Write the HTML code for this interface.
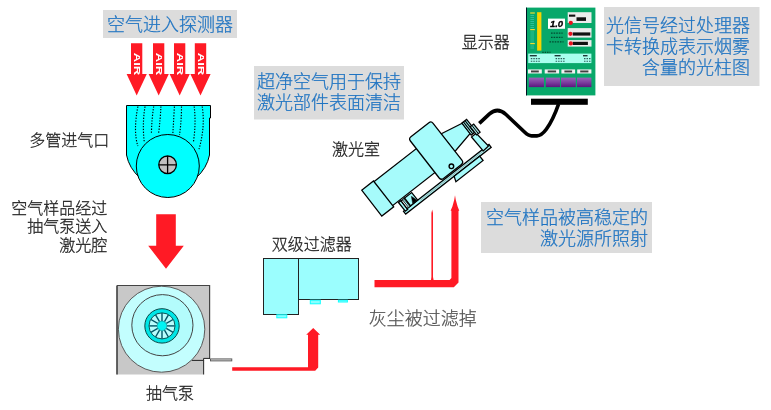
<!DOCTYPE html>
<html lang="zh-CN"><head><meta charset="utf-8"><title>空气采样探测器原理</title>
<style>
html,body{margin:0;padding:0;background:#fff;}
body{width:771px;height:410px;overflow:hidden;}
svg{display:block;font-family:"Liberation Sans","Noto Sans CJK SC",sans-serif;will-change:transform;}
</style></head><body>
<svg width="771" height="410" viewBox="0 0 771 410">
<defs><linearGradient id="pg" x1="0" y1="0" x2="0" y2="1"><stop offset="0" stop-color="#9a66b8"/><stop offset="0.55" stop-color="#7a3a9c"/><stop offset="1" stop-color="#5c167e"/></linearGradient></defs>
<polygon points="131.0,43.3 142.3,43.3 142.3,74.0 146.8,74.0 136.7,95.5 126.6,74.0 131.0,74.0" fill="#ff1a25"/>
<text x="136.7" y="66.5" transform="rotate(90 136.7 64.0)" font-family='"Liberation Sans",sans-serif' font-weight="bold" font-size="9.5" fill="#fff" text-anchor="middle" textLength="22.5" lengthAdjust="spacingAndGlyphs">AIR</text>
<polygon points="153.0,43.3 164.3,43.3 164.3,74.0 168.8,74.0 158.7,95.5 148.6,74.0 153.0,74.0" fill="#ff1a25"/>
<text x="158.7" y="66.5" transform="rotate(90 158.7 64.0)" font-family='"Liberation Sans",sans-serif' font-weight="bold" font-size="9.5" fill="#fff" text-anchor="middle" textLength="22.5" lengthAdjust="spacingAndGlyphs">AIR</text>
<polygon points="174.0,43.3 185.3,43.3 185.3,74.0 189.8,74.0 179.7,95.5 169.6,74.0 174.0,74.0" fill="#ff1a25"/>
<text x="179.7" y="66.5" transform="rotate(90 179.7 64.0)" font-family='"Liberation Sans",sans-serif' font-weight="bold" font-size="9.5" fill="#fff" text-anchor="middle" textLength="22.5" lengthAdjust="spacingAndGlyphs">AIR</text>
<polygon points="194.8,43.3 206.2,43.3 206.2,74.0 210.6,74.0 200.5,95.5 190.4,74.0 194.8,74.0" fill="#ff1a25"/>
<text x="200.5" y="66.5" transform="rotate(90 200.5 64.0)" font-family='"Liberation Sans",sans-serif' font-weight="bold" font-size="9.5" fill="#fff" text-anchor="middle" textLength="22.5" lengthAdjust="spacingAndGlyphs">AIR</text>
<path d="M126.5 105.5 H210.5 V118 H209.5 V155 Q207 168 196 178 L140 178 Q129 168 126.5 155 Z" fill="#00ffff" stroke="#000" stroke-width="1"/>
<path d="M137.9 106.5 Q133.1 131.2 137.9 146" fill="none" stroke="#000" stroke-width="1.15" stroke-dasharray="1.3 1.5"/>
<path d="M145 106.5 Q142.2 123.9 144.2 141.3" fill="none" stroke="#000" stroke-width="1.15" stroke-dasharray="1.3 1.5"/>
<path d="M153.7 106.5 Q151.8 118.2 151.4 133.5" fill="none" stroke="#000" stroke-width="1.15" stroke-dasharray="1.3 1.5"/>
<path d="M160.9 106.5 Q160.5 117.8 158.5 134.3" fill="none" stroke="#000" stroke-width="1.15" stroke-dasharray="1.3 1.5"/>
<path d="M174.4 106.5 Q173.6 121.0 172.8 134.3" fill="none" stroke="#000" stroke-width="1.15" stroke-dasharray="1.3 1.5"/>
<path d="M181.5 106.5 Q181.5 120.7 179.5 135" fill="none" stroke="#000" stroke-width="1.15" stroke-dasharray="1.3 1.5"/>
<path d="M194.2 106.5 Q196.2 123.6 193.4 142" fill="none" stroke="#000" stroke-width="1.15" stroke-dasharray="1.3 1.5"/>
<path d="M202.2 106.5 Q205.4 126.4 199 149.2" fill="none" stroke="#000" stroke-width="1.15" stroke-dasharray="1.3 1.5"/>
<circle cx="167.8" cy="166" r="31.5" fill="#00ffff" stroke="#000" stroke-width="1"/>
<circle cx="167.6" cy="164.8" r="8.8" fill="#c0c0c0" stroke="#000" stroke-width="1.3"/>
<path d="M158.8 164.8 H176.4 M167.6 156 V173.6" stroke="#000" stroke-width="1.3"/>
<polygon points="156.2,214.3 175.8,214.3 175.8,245.8 183.8,245.8 166.0,268.7 148.2,245.8 156.2,245.8" fill="#ff1a25"/>
<path d="M116.5 285.5 H210 V358.4 H203.6 V374.5 H116.5 Z" fill="#c8c8c8"/>
<path d="M117 374.5 V285.5" stroke="#111" stroke-width="1.2"/>
<path d="M117 285.5 H209.6 V358.4" stroke="#444" stroke-width="1.2" fill="none"/>
<ellipse cx="161.6" cy="329.2" rx="43.2" ry="43" fill="#c3fefe" stroke="#5a5a5a" stroke-width="1"/>
<circle cx="162.4" cy="325.2" r="30.6" fill="#b3fcfc" stroke="#444" stroke-width="1"/>
<circle cx="162.0" cy="325.9" r="17.2" fill="#00e6e6" stroke="#033" stroke-width="0.9"/>
<circle cx="162.0" cy="325.9" r="13" fill="#b8fdfd" stroke="#044" stroke-width="0.9"/>
<line x1="167.0" y1="325.9" x2="174.8" y2="325.9" stroke="#056" stroke-width="1.4"/>
<line x1="166.3" y1="328.4" x2="173.1" y2="332.3" stroke="#056" stroke-width="1.4"/>
<line x1="164.5" y1="330.2" x2="168.4" y2="337.0" stroke="#056" stroke-width="1.4"/>
<line x1="162.0" y1="330.9" x2="162.0" y2="338.7" stroke="#056" stroke-width="1.4"/>
<line x1="159.5" y1="330.2" x2="155.6" y2="337.0" stroke="#056" stroke-width="1.4"/>
<line x1="157.7" y1="328.4" x2="150.9" y2="332.3" stroke="#056" stroke-width="1.4"/>
<line x1="157.0" y1="325.9" x2="149.2" y2="325.9" stroke="#056" stroke-width="1.4"/>
<line x1="157.7" y1="323.4" x2="150.9" y2="319.5" stroke="#056" stroke-width="1.4"/>
<line x1="159.5" y1="321.6" x2="155.6" y2="314.8" stroke="#056" stroke-width="1.4"/>
<line x1="162.0" y1="320.9" x2="162.0" y2="313.1" stroke="#056" stroke-width="1.4"/>
<line x1="164.5" y1="321.6" x2="168.4" y2="314.8" stroke="#056" stroke-width="1.4"/>
<line x1="166.3" y1="323.4" x2="173.1" y2="319.5" stroke="#056" stroke-width="1.4"/>
<circle cx="162.0" cy="325.9" r="4.8" fill="#00f4f4" stroke="#088" stroke-width="0.6"/>
<rect x="210.5" y="358.9" width="21.3" height="2" fill="#d4d4d4" stroke="#555" stroke-width="0.9"/>
<path d="M192 360.4 H203.6 V358.4 H210" stroke="#222" stroke-width="1" fill="none"/>
<path d="M203.6 360 V374.5" stroke="#333" stroke-width="1.1" fill="none"/>
<path d="M232.2 367.3 H308 V334.7 H306.2 L313.2 327.9 L320.2 334.7 H318.2 V367.6 L315.2 370.7 H232.2 Z" fill="#ff1a25"/>
<rect x="263.5" y="258.5" width="35" height="56" fill="#9bfefe" stroke="#222" stroke-width="1"/>
<rect x="298.5" y="258.5" width="60" height="41" fill="#9bfefe" stroke="#222" stroke-width="1"/>
<rect x="276.8" y="314.8" width="10" height="3" fill="#8ff" stroke="#1ff" stroke-width="1"/>
<rect x="310.3" y="300.2" width="10" height="3.6" fill="#8ff" stroke="#1ff" stroke-width="1"/>
<rect x="338.4" y="300.2" width="9" height="1.8" fill="#8ff" stroke="#1ff" stroke-width="1"/>
<path d="M374.5 280 H431 L431.4 277 V213 L432.2 209.5 L433 213 V277 L433.6 280 H449.6 L451.4 278 V210.8 H450.6 L452.4 206.5 L454.2 200 L455 195.2 L455.8 200 L457.6 206.5 L459.3 210.8 H458.5 V282.5 L453.8 287.3 H374.5 Z" fill="#ff1a25"/>
<polygon points="403.5,211.3 489.0,144.5 491.2,147.3 405.7,214.1" fill="#a6fbfb" stroke="#000" stroke-width="1.25" />
<line x1="420.3" y1="200.3" x2="488.0" y2="147.3" stroke="#999" stroke-width="0.8"/>
<polygon points="398.5,202.5 400.9,200.7 407.7,209.3 405.3,211.2" fill="#a6fbfb" stroke="#000" stroke-width="1.25" />
<polygon points="401.1,200.9 404.6,198.1 410.6,205.8 407.1,208.6" fill="#fff" stroke="#000" stroke-width="1.25" />
<polygon points="402.5,199.8 403.8,198.8 409.8,206.4 408.5,207.4" fill="#a6fbfb" stroke="#000" stroke-width="0.8" />
<polygon points="404.6,198.1 411.7,192.6 417.7,200.2 410.6,205.8" fill="#a6fbfb" stroke="#000" stroke-width="1.25" />
<polygon points="412.7,203.5 417.0,200.2 411.4,196.3" fill="#000" stroke="#000" stroke-width="0.5" />
<polygon points="454.1,176.2 479.7,156.2 483.1,160.5 455.9,181.8" fill="#a6fbfb" stroke="#000" stroke-width="1.25" />
<polygon points="471.5,137.0 476.2,133.3 488.5,146.0 483.2,150.9" fill="#a6fbfb" stroke="#000" stroke-width="1.25" />
<polygon points="373.2,182.3 417.4,147.8 436.0,171.7 391.9,206.2" fill="#a6fbfb" stroke="#000" stroke-width="1.25" />
<polygon points="361.7,190.2 373.5,181.0 393.7,206.8 381.8,216.1" fill="#a6fbfb" stroke="#000" stroke-width="1.25" />
<polygon points="440.8,134.0 462.2,123.2 470.2,133.4 454.7,151.7" fill="#a6fbfb" stroke="#000" stroke-width="1.25" />
<polygon points="461.9,123.1 466.6,119.4 476.0,131.4 471.2,135.1" fill="#a6fbfb" stroke="#000" stroke-width="1.25" />
<line x1="463.4" y1="121.9" x2="472.8" y2="133.8" stroke="#000" stroke-width="1.2"/>
<line x1="465.0" y1="120.6" x2="474.4" y2="132.6" stroke="#000" stroke-width="1.2"/>
<polygon points="470.2,126.8 473.7,124.1 480.1,132.2 476.6,134.9" fill="#9edcdc" stroke="#000" stroke-width="1.25" />
<line x1="472.0" y1="125.5" x2="478.3" y2="133.6" stroke="#000" stroke-width="1"/>
<path d="M410.9 136.8 L428.9 122.7 Q431.2 120.9 433.1 123.3 L461.9 160.2 Q463.8 162.6 461.4 164.4 L443.5 178.5 Q441.1 180.3 439.2 178.0 L410.4 141.0 Q408.5 138.6 410.9 136.8Z" fill="#a6fbfb" stroke="#000" stroke-width="1.3"/>
<circle cx="451.4" cy="166.3" r="2.3" fill="#a6fbfb" stroke="#000" stroke-width="1.4"/>
<path d="M479.3 123.3 L489.5 113.8 Q497.7 106.8 506 114.5 L524.5 132 Q528.5 135.8 531.5 135.8 L537 135.8 Q541.5 135.8 546.5 129 Q553 120 558.6 104" fill="none" stroke="#000" stroke-width="3.7" stroke-linejoin="round"/>
<rect x="526" y="7.6" width="69.4" height="87.8" fill="#08a86a"/>
<rect x="526" y="7.6" width="1" height="87.8" fill="#012"/>
<rect x="531" y="98.7" width="56.8" height="6.1" fill="#000"/>
<rect x="537.1" y="12.2" width="4.3" height="38.4" fill="#f7d400"/>
<rect x="530.4" y="15" width="3.6" height="1" fill="#2cc09a"/>
<rect x="530.4" y="17" width="3.6" height="1" fill="#2cc09a"/>
<rect x="530.4" y="19" width="3.6" height="1" fill="#2cc09a"/>
<rect x="530.4" y="21" width="3.6" height="1" fill="#2cc09a"/>
<rect x="530.4" y="23" width="3.6" height="1" fill="#2cc09a"/>
<rect x="530.4" y="25" width="3.6" height="1" fill="#2cc09a"/>
<rect x="530.4" y="27" width="3.6" height="1" fill="#2cc09a"/>
<rect x="530.4" y="31.5" width="3.6" height="1" fill="#2cc09a"/>
<rect x="530.4" y="33.5" width="3.6" height="1" fill="#2cc09a"/>
<rect x="530.4" y="35.5" width="3.6" height="1" fill="#2cc09a"/>
<rect x="530.4" y="37.5" width="3.6" height="1" fill="#2cc09a"/>
<rect x="530.4" y="39.5" width="3.6" height="1" fill="#2cc09a"/>
<rect x="530.4" y="41.5" width="3.6" height="1" fill="#2cc09a"/>
<rect x="530.4" y="45.5" width="3.6" height="1" fill="#2cc09a"/>
<rect x="530.4" y="47.5" width="3.6" height="1" fill="#2cc09a"/>
<rect x="530.2" y="12.4" width="4.6" height="1.2" fill="#f2dc30"/>
<rect x="530.2" y="29" width="4.6" height="1.2" fill="#f2dc30"/>
<rect x="530.2" y="43" width="4.6" height="1.2" fill="#f2dc30"/>
<rect x="548" y="18.6" width="17" height="10.2" fill="#fff"/>
<text x="556.5" y="27.4" font-family='"Liberation Sans",sans-serif' font-weight="bold" font-style="italic" font-size="9.5" text-anchor="middle" fill="#000" stroke="#000" stroke-width="0.3">1.0</text>
<rect x="567.7" y="12.2" width="23.8" height="10.8" fill="#ececec"/>
<rect x="567.7" y="28.1" width="23.8" height="9.5" fill="#ececec"/>
<rect x="567.7" y="40.1" width="23.8" height="6.5" fill="#ececec"/>
<rect x="569" y="14.6" width="6.3" height="2.1" fill="#111"/>
<rect x="576.5" y="17.3" width="9.5" height="3.6" fill="#111"/>
<rect x="572.7" y="32.4" width="17.6" height="3.2" fill="#111"/>
<rect x="572.7" y="41.8" width="15.2" height="3.2" fill="#111"/>
<circle cx="570.8" cy="22.8" r="2.1" fill="#e8101c"/>
<circle cx="570.4" cy="33.8" r="2.1" fill="#e8101c"/>
<circle cx="570.8" cy="43.4" r="2.1" fill="#e8101c"/>
<line x1="551" y1="33.2" x2="562.6" y2="33.2" stroke="#032" stroke-width="1.2" stroke-dasharray="1.6 1" opacity="0.8"/>
<line x1="551" y1="37.4" x2="562.6" y2="37.4" stroke="#032" stroke-width="1.2" stroke-dasharray="1.6 1" opacity="0.8"/>
<line x1="549.5" y1="41.800000000000004" x2="563.5" y2="41.800000000000004" stroke="#032" stroke-width="1.2" stroke-dasharray="1.6 1" opacity="0.8"/>
<line x1="542.3" y1="52.2" x2="550.5" y2="52.2" stroke="#021" stroke-width="1.1" stroke-dasharray="1.4 1" opacity="0.85"/>
<rect x="528.2" y="53.6" width="63.2" height="9.5" fill="#a8ffee"/>
<rect x="529.8" y="55" width="7" height="1.4" fill="#122" opacity="0.9"/>
<line x1="530.8" y1="58.6" x2="540.8" y2="58.6" stroke="#133" stroke-width="1.1" stroke-dasharray="1.5 1" opacity="0.8"/>
<line x1="530.8" y1="61.3" x2="540.8" y2="61.3" stroke="#133" stroke-width="1.1" stroke-dasharray="1.5 1" opacity="0.8"/>
<rect x="554.6" y="55" width="6" height="1.4" fill="#122" opacity="0.9"/>
<line x1="555.6" y1="58.6" x2="564.6" y2="58.6" stroke="#133" stroke-width="1.1" stroke-dasharray="1.5 1" opacity="0.8"/>
<line x1="555.6" y1="61.3" x2="564.6" y2="61.3" stroke="#133" stroke-width="1.1" stroke-dasharray="1.5 1" opacity="0.8"/>
<rect x="583" y="55" width="4.5" height="1.4" fill="#122" opacity="0.9"/>
<line x1="584" y1="58.6" x2="591.5" y2="58.6" stroke="#133" stroke-width="1.1" stroke-dasharray="1.5 1" opacity="0.8"/>
<line x1="584" y1="61.3" x2="591.5" y2="61.3" stroke="#133" stroke-width="1.1" stroke-dasharray="1.5 1" opacity="0.8"/>
<rect x="528" y="69.4" width="13.8" height="4.1" fill="#f2f2f2"/>
<rect x="531.0" y="70.5" width="7.8" height="1.9" fill="#222" opacity="0.85"/>
<rect x="544.7" y="69.4" width="14.4" height="4.1" fill="#f2f2f2"/>
<rect x="547.7" y="70.5" width="8.4" height="1.9" fill="#222" opacity="0.85"/>
<rect x="561.4" y="69.4" width="13.7" height="4.1" fill="#f2f2f2"/>
<rect x="564.4" y="70.5" width="7.7" height="1.9" fill="#222" opacity="0.85"/>
<rect x="577.2" y="69.4" width="14.2" height="4.1" fill="#f2f2f2"/>
<rect x="580.2" y="70.5" width="8.2" height="1.9" fill="#222" opacity="0.85"/>
<rect x="528.8" y="77.6" width="15.2" height="9.5" fill="url(#pg)"/>
<rect x="545.8" y="77.6" width="14.2" height="9.5" fill="url(#pg)"/>
<rect x="561" y="77.6" width="14.8" height="9.5" fill="url(#pg)"/>
<rect x="577" y="77.6" width="14.4" height="9.5" fill="url(#pg)"/>
<rect x="103" y="10" width="134" height="28" fill="#dcdcdc"/><text x="170" y="30.5" font-size="18" fill="#1f74c2" stroke="#1f74c2" stroke-width="0.25" text-anchor="middle" font-weight="300">空气进入探测器</text>
<rect x="254" y="66" width="150" height="53.5" fill="#dcdcdc"/><text x="257" y="88.0" font-size="18" fill="#1f74c2" stroke="#1f74c2" stroke-width="0.25" text-anchor="start" font-weight="300">超净空气用于保持</text><text x="257" y="109.3" font-size="18" fill="#1f74c2" stroke="#1f74c2" stroke-width="0.25" text-anchor="start" font-weight="300">激光部件表面清洁</text>
<rect x="604" y="7" width="155.5" height="79" fill="#dcdcdc"/><text x="750" y="31.5" font-size="18" fill="#1f74c2" stroke="#1f74c2" stroke-width="0.25" text-anchor="end" font-weight="300">光信号经过处理器</text><text x="750" y="52.8" font-size="18" fill="#1f74c2" stroke="#1f74c2" stroke-width="0.25" text-anchor="end" font-weight="300">卡转换成表示烟雾</text><text x="750" y="74.1" font-size="18" fill="#1f74c2" stroke="#1f74c2" stroke-width="0.25" text-anchor="end" font-weight="300">含量的光柱图</text>
<rect x="481" y="202" width="171" height="51" fill="#dcdcdc"/><text x="648" y="223.5" font-size="18" fill="#1f74c2" stroke="#1f74c2" stroke-width="0.25" text-anchor="end" font-weight="300">空气样品被高稳定的</text><text x="648" y="244.8" font-size="18" fill="#1f74c2" stroke="#1f74c2" stroke-width="0.25" text-anchor="end" font-weight="300">激光源所照射</text>
<text x="109.2" y="146" font-size="16" fill="#222" stroke="#222" stroke-width="0.26" text-anchor="end" font-weight="300">多管进气口</text>
<text x="107.2" y="214" font-size="16" fill="#222" stroke="#222" stroke-width="0.26" text-anchor="end" font-weight="300">空气样品经过</text>
<text x="107.2" y="232.3" font-size="16" fill="#222" stroke="#222" stroke-width="0.26" text-anchor="end" font-weight="300">抽气泵送入</text>
<text x="107.2" y="250.6" font-size="16" fill="#222" stroke="#222" stroke-width="0.26" text-anchor="end" font-weight="300">激光腔</text>
<text x="169.9" y="399.1" font-size="16" fill="#222" stroke="#222" stroke-width="0.26" text-anchor="middle" font-weight="300">抽气泵</text>
<text x="311.7" y="250.1" font-size="16" fill="#222" stroke="#222" stroke-width="0.26" text-anchor="middle" font-weight="300">双级过滤器</text>
<text x="422.8" y="325.2" font-size="18" fill="#525252" stroke="#525252" stroke-width="0.25" text-anchor="middle" font-weight="300">灰尘被过滤掉</text>
<text x="356" y="155" font-size="16" fill="#222" stroke="#222" stroke-width="0.26" text-anchor="middle" font-weight="300">激光室</text>
<text x="485.7" y="48" font-size="16" fill="#222" stroke="#222" stroke-width="0.26" text-anchor="middle" font-weight="300">显示器</text>
</svg>
</body></html>
